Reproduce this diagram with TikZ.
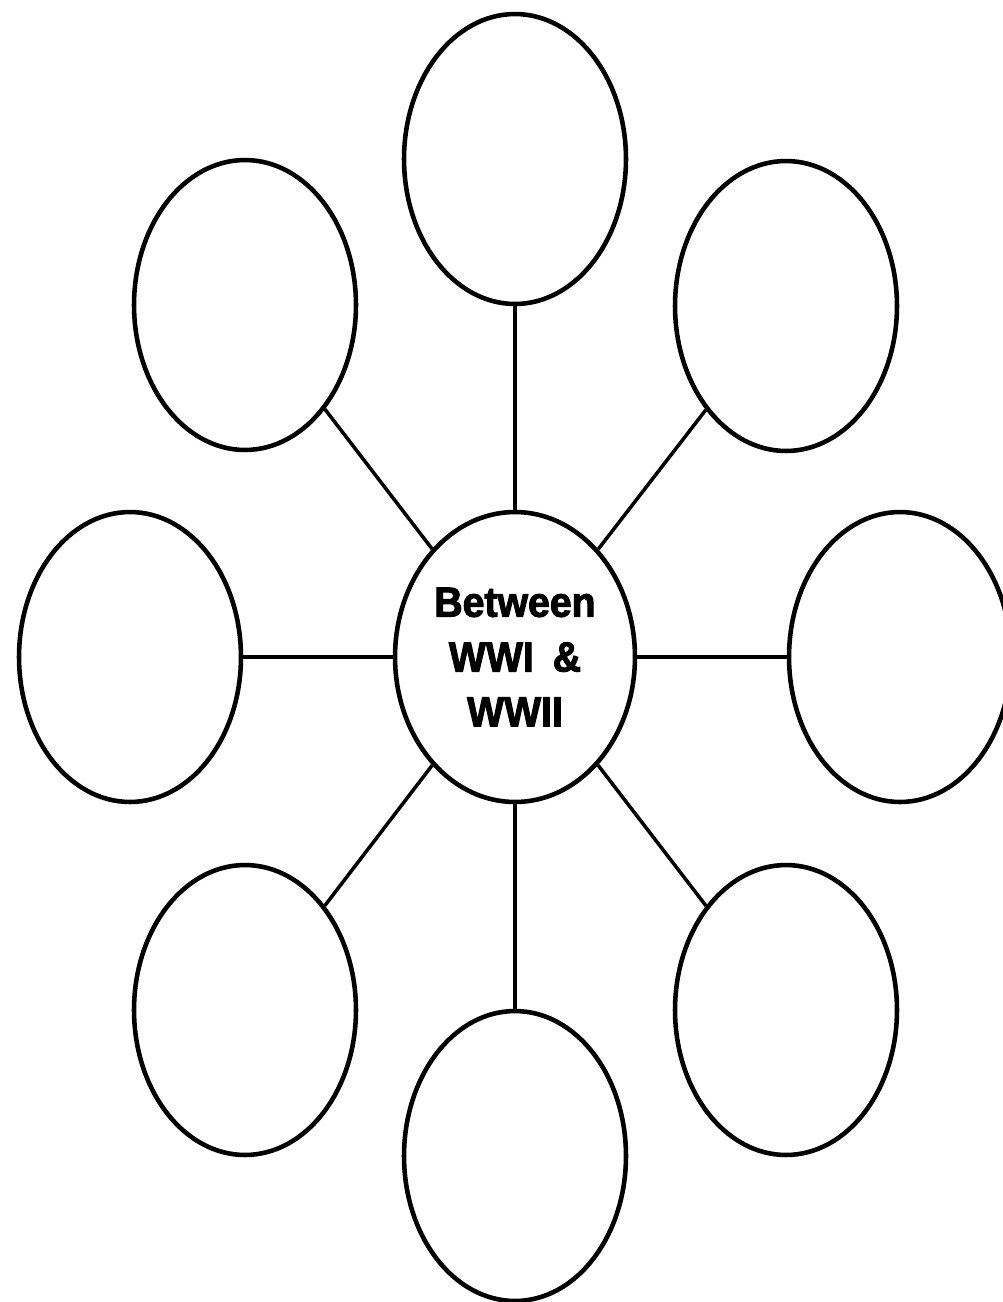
\documentclass[tikz,border=0pt]{standalone}
\usepackage{fontspec}
\setmainfont{Liberation Sans}
\newfontfamily\hubfont{Liberation Sans}[BoldFeatures={FakeBold=2.4,FakeStretch=0.93}]
\usetikzlibrary{shapes.geometric}

\tikzset{
  bubble/.style={draw, ellipse, line width=2.6pt, minimum width=4.44cm, minimum height=5.8cm, inner sep=0pt},
  hub/.style={bubble, minimum width=4.8cm, align=center, font=\hubfont\fontsize{24}{31.2}\selectfont\bfseries},
  spoke/.style={line width=2pt}
}

\begin{document}
\begin{tikzpicture}[x=0.02cm, y=-0.02cm]
        % Dimensioni della pagina
        \useasboundingbox (0,0) rectangle (1002,1302);

        % Nodo centrale
        \node[hub] (centro) at (515,657) {Between\\WWI\hspace{0.45em}\&\\WWII};

        % Ellissi esterne
        \node[bubble] (su)     at (515,159)  {};
        \node[bubble] (sunw)   at (245,305)  {};
        \node[bubble] (sune)   at (786,306)  {};
        \node[bubble] (ovest)  at (130,657)  {};
        \node[bubble] (est)    at (900,657)  {};
        \node[bubble] (giusw)  at (245,1010) {};
        \node[bubble] (giuse)  at (786,1010) {};
        \node[bubble] (giu)    at (515,1156) {};

        % Raggi
        \draw[spoke] (centro) -- (su);
        \draw[spoke] (centro) -- (sunw);
        \draw[spoke] (centro) -- (sune);
        \draw[spoke] (centro) -- (ovest);
        \draw[spoke] (centro) -- (est);
        \draw[spoke] (centro) -- (giusw);
        \draw[spoke] (centro) -- (giuse);
        \draw[spoke] (centro) -- (giu);

    \end{tikzpicture}
\end{document}
